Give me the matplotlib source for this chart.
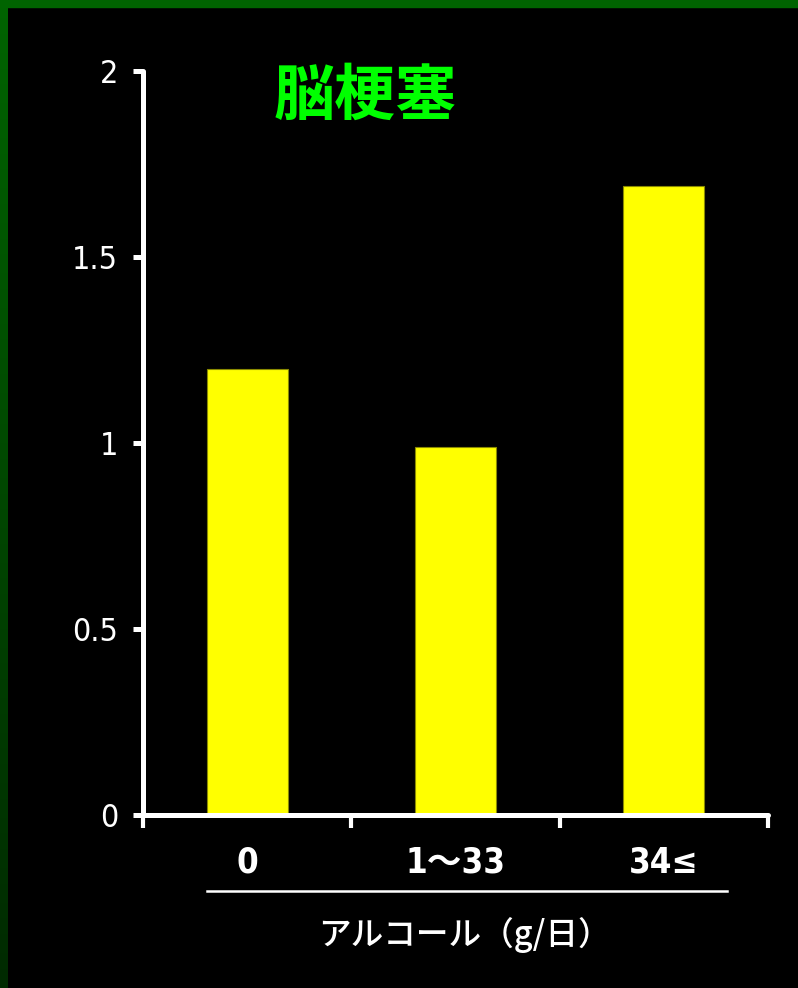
import numpy as np
import matplotlib.pyplot as plt
from matplotlib.colors import LinearSegmentedColormap
from matplotlib.patches import Rectangle
from matplotlib.lines import Line2D

# Relative risk of cerebral infarction by daily alcohol intake
categories = ['0', '1〜33', '34≤']
risk = [1.2, 0.99, 1.69]
y_ticks = [0, 0.5, 1, 1.5, 2]
y_tick_labels = ['0', '0.5', '1', '1.5', '2']
title = '脳梗塞'
xlabel = 'アルコール（g/日）'

W, H = 798, 988
num_font = ['DejaVu Sans', 'Noto Sans CJK JP']
jp_font = ['Noto Sans CJK JP', 'DejaVu Sans']

fig = plt.figure(figsize=(W / 100, H / 100), dpi=100, facecolor='black')

# green frame: flat band on top, darkening band on the left
fig.add_artist(Rectangle((0, 1 - 7 / H), 1, 7 / H, transform=fig.transFigure,
                         color='#006400', zorder=5))
ax_edge = fig.add_axes([0, 0, 8 / W, 1])
edge_cmap = LinearSegmentedColormap.from_list('edge', ['#002a00', '#006400'])
ax_edge.imshow(np.linspace(0, 1, 256).reshape(-1, 1), cmap=edge_cmap,
               aspect='auto', origin='lower')
ax_edge.axis('off')

ax = fig.add_axes([143 / W, 1 - 815 / H, (768 - 143) / W, (815 - 71) / H])
ax.set_facecolor('black')

x = np.arange(len(categories))
ax.bar(x, risk, width=0.39, color='#ffff00', edgecolor='#8a8a00', linewidth=0.8,
       zorder=2)

ax.set_xlim(-0.5, len(categories) - 0.5)
ax.set_ylim(0, 2)

for side in ['top', 'right']:
    ax.spines[side].set_visible(False)
for side in ['left', 'bottom']:
    ax.spines[side].set_color('white')
    ax.spines[side].set_linewidth(3.6)
    ax.spines[side].set_capstyle('round')
    ax.spines[side].set_zorder(3)

ax.set_yticks(y_ticks)
ax.set_yticklabels(y_tick_labels, family=num_font, stretch='condensed',
                   fontsize=23, color='white')
ax.tick_params(axis='y', direction='out', length=7, width=3.6, color='white',
               pad=11)

# category labels centred under the bars, separator ticks between groups
ax.set_xticks(x)
ax.set_xticklabels(categories, family=num_font, stretch='condensed',
                   fontsize=25, fontweight='bold', color='white')
ax.set_xticks(np.arange(-0.5, len(categories)), minor=True)
ax.tick_params(axis='x', which='major', length=0, pad=22)
ax.tick_params(axis='x', which='minor', direction='out', length=9, width=3,
               color='white')

fig.text(365 / W, 1 - 97 / H, title, family=jp_font, fontsize=44,
         fontweight='bold', color='#00ff00', ha='center', va='center')

fig.add_artist(Line2D([207 / W, 727 / W], [1 - 891 / H, 1 - 891 / H],
                      transform=fig.transFigure, color='white', linewidth=1.8))
fig.text(464 / W, 1 - 935 / H, xlabel, family=jp_font, fontsize=23.5,
         fontweight='medium', color='white', ha='center', va='center')

fig.savefig('out.png', dpi=100, facecolor='black')
